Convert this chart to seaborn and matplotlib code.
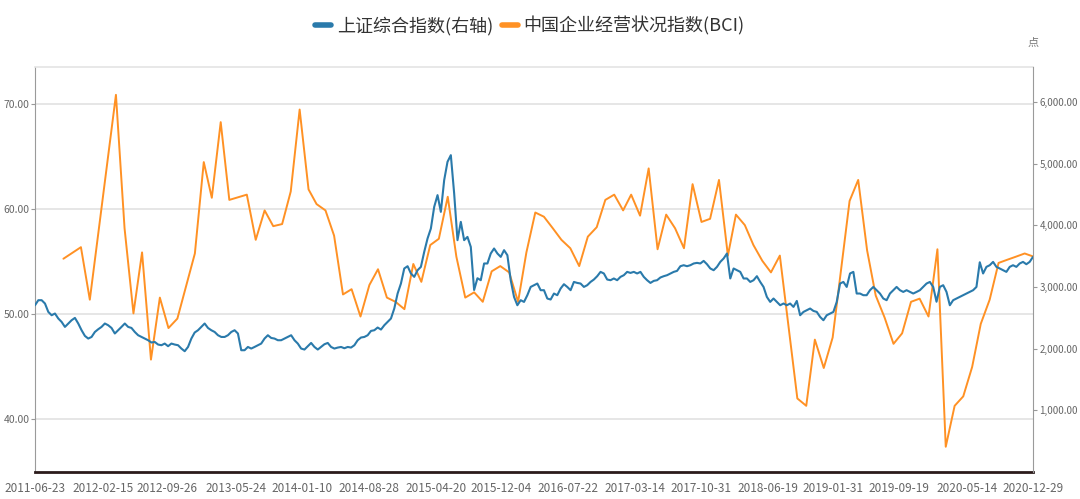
import pandas as pd
import matplotlib
matplotlib.use("Agg")
import matplotlib.pyplot as plt
import matplotlib.ticker as mticker
from matplotlib.lines import Line2D
import seaborn as sns

sse_start = "2011-06-23"
sse_end = "2020-12-29"
sse_values = [
    2703, 2785, 2785, 2731, 2595, 2541, 2569, 2488, 2433, 2352,
    2407, 2460, 2498, 2407, 2298, 2206, 2163, 2189, 2270, 2314,
    2352, 2407, 2379, 2335, 2245, 2298, 2352, 2407, 2352, 2335,
    2270, 2217, 2189, 2163, 2136, 2099, 2108, 2066, 2055, 2082,
    2039, 2082, 2066, 2055, 2001, 1958, 2027, 2163, 2261, 2298,
    2352, 2407, 2335, 2298, 2270, 2217, 2189, 2189, 2217, 2270,
    2298, 2245, 1974, 1974, 2027, 2001, 2027, 2055, 2082, 2163,
    2217, 2173, 2163, 2136,
    2136, 2163, 2189, 2217, 2136, 2082, 2001, 1985, 2039, 2092,
    2027, 1985, 2027, 2071, 2092, 2027, 2001, 2017, 2027, 2006,
    2027, 2017, 2055, 2136, 2180, 2189, 2217, 2287, 2298, 2342,
    2309, 2379, 2433, 2488, 2650, 2893, 3055, 3299, 3336, 3218,
    3163, 3271, 3325, 3568, 3785, 3947, 4298, 4488, 4217, 4731,
    5028, 5136, 4515, 3758, 4055, 3758, 3811, 3649, 2950, 3141,
    3109, 3380, 3380, 3542, 3623, 3542, 3487, 3596, 3514, 3109,
    2838, 2703, 2785, 2757, 2866, 3000,
    3028, 3055, 2947, 2947, 2812, 2796, 2893, 2866, 2974, 3044,
    3000, 2947, 3081, 3065, 3055, 3000, 3028, 3081, 3120, 3174,
    3244, 3218, 3120, 3109, 3137, 3109, 3163, 3190, 3244, 3227,
    3244, 3218, 3244, 3163, 3109, 3065, 3098, 3109, 3153, 3174,
    3190, 3218, 3244, 3260, 3336, 3352, 3336, 3352, 3380, 3390,
    3380, 3422, 3368, 3299, 3271, 3325, 3406, 3461, 3542, 3137,
    3299, 3271, 3244, 3137, 3137, 3081, 3109, 3174, 3081, 3000,
    2838, 2757, 2812, 2757, 2703,
    2731, 2703, 2731, 2676, 2773, 2541, 2595, 2622, 2650, 2611,
    2595, 2514, 2460, 2541, 2569, 2595, 2757, 3055, 3081, 3000,
    3218, 3244, 2893, 2893, 2866, 2866, 2947, 3000, 2947, 2893,
    2812, 2785, 2893, 2947, 3000, 2947, 2919, 2947, 2919, 2893,
    2919, 2947, 3000, 3055, 3081, 3000, 2760, 3000, 3028, 2919,
    2703, 2785, 2812, 2838, 2866, 2893, 2919, 2947, 3000, 3400,
    3218, 3325, 3352, 3406, 3325, 3299, 3271, 3244, 3325, 3352,
    3325, 3380, 3406, 3368, 3406, 3487,
]

# 中国企业经营状况指数 (BCI), monthly
bci_months = [
    "2011-09", "2011-11", "2011-12", "2012-03", "2012-04", "2012-05", "2012-06",
    "2012-07", "2012-08", "2012-09", "2012-10", "2012-12", "2013-01", "2013-02",
    "2013-03", "2013-04", "2013-06", "2013-07", "2013-08", "2013-09", "2013-10",
    "2013-11", "2013-12", "2014-01", "2014-02", "2014-03", "2014-04", "2014-05",
    "2014-06", "2014-07", "2014-08", "2014-09", "2014-10", "2014-11", "2014-12",
    "2015-01", "2015-02", "2015-03", "2015-04", "2015-05", "2015-06", "2015-07",
    "2015-08", "2015-09", "2015-10", "2015-11", "2015-12", "2016-01", "2016-02",
    "2016-03", "2016-04", "2016-05", "2016-06", "2016-07", "2016-08", "2016-09",
    "2016-10", "2016-11", "2016-12", "2017-01", "2017-02", "2017-03", "2017-04",
    "2017-05", "2017-06", "2017-07", "2017-08", "2017-09", "2017-10", "2017-11",
    "2017-12", "2018-01", "2018-02", "2018-03", "2018-04", "2018-05", "2018-06",
    "2018-07", "2018-09", "2018-10", "2018-11", "2018-12", "2019-01", "2019-03",
    "2019-04", "2019-05", "2019-06", "2019-07", "2019-08", "2019-09", "2019-10",
    "2019-11", "2019-12", "2020-01", "2020-02", "2020-03", "2020-04", "2020-05",
    "2020-06", "2020-07", "2020-08", "2020-09", "2020-10", "2020-11", "2020-12",
]
bci_values = [
    55.3, 56.4, 51.4, 70.9, 58.2, 50.1, 55.9, 45.7, 51.6, 48.7,
    49.6, 55.8, 64.5, 61.1, 68.3, 60.9, 61.4, 57.1, 59.9, 58.4,
    58.6, 61.7, 69.5, 61.9, 60.5, 59.9, 57.5, 51.9, 52.4, 49.8,
    52.8, 54.3, 51.6, 51.2, 50.5, 54.8, 53.1, 56.6, 57.2, 61.2,
    55.5, 51.6, 52.1, 51.2, 54.1, 54.6, 54.0, 51.2, 55.9, 59.7,
    59.3, 58.2, 57.1, 56.3, 54.6, 57.4, 58.3, 60.9, 61.4, 59.9,
    61.4, 59.4, 63.9, 56.2, 59.5, 58.2, 56.3, 62.4, 58.8, 59.1,
    62.8, 55.6, 59.5, 58.5, 56.6, 55.1, 54.0, 55.6, 42.0, 41.3,
    47.6, 44.9, 47.8, 60.8, 62.8, 56.1, 51.8, 49.7, 47.2, 48.2,
    51.2, 51.5, 49.8, 56.2, 37.4, 41.3, 42.2, 45.0, 49.1, 51.4,
    54.9, 55.2, 55.5, 55.8, 55.5,
]

tick_dates = [
    "2011-06-23", "2012-02-15", "2012-09-26", "2013-05-24", "2014-01-10",
    "2014-08-28", "2015-04-20", "2015-12-04", "2016-07-22", "2017-03-14",
    "2017-10-31", "2018-06-19", "2019-01-31", "2019-09-19", "2020-05-14",
    "2020-12-29",
]
left_ticks = [40, 50, 60, 70]
right_ticks = [1000, 2000, 3000, 4000, 5000, 6000]

sse_label = "上证综合指数(右轴)"
bci_label = "中国企业经营状况指数(BCI)"
blue = "#2a7aab"
orange = "#ff9124"

sns.set_style("white")
plt.rcParams["font.family"] = ["Noto Sans CJK SC", "DejaVu Sans"]

sse = pd.DataFrame({
    "date": pd.date_range(sse_start, sse_end, periods=len(sse_values)),
    "value": sse_values,
})
bci = pd.DataFrame({
    "date": pd.to_datetime(bci_months) + pd.offsets.MonthEnd(0),
    "value": bci_values,
})

fig = plt.figure(figsize=(10.8, 4.99), dpi=100)
ax = fig.add_axes([35 / 1080, 27 / 499, 998 / 1080, 405 / 499])
axr = ax.twinx()

sns.lineplot(data=bci, x="date", y="value", ax=ax, color=orange, lw=1.4)
sns.lineplot(data=sse, x="date", y="value", ax=axr, color=blue, lw=1.5)

ax.set_xlim(pd.Timestamp(sse_start), pd.Timestamp(sse_end))
ax.set_ylim(35, 73.55)
axr.set_ylim(0, 6565)

ax.set_yticks(left_ticks)
ax.yaxis.set_major_formatter(mticker.FuncFormatter(lambda v, p: f"{v:.2f}"))
axr.set_yticks(right_ticks)
axr.yaxis.set_major_formatter(mticker.FuncFormatter(lambda v, p: f"{v:,.2f}"))
ax.set_xticks(pd.to_datetime(tick_dates))
ax.set_xticklabels(tick_dates)

ax.yaxis.grid(True, color="#e6e6e6", lw=1.4)
ax.xaxis.grid(False)
for a in (ax, axr):
    a.set_xlabel("")
    a.set_ylabel("")

ax.tick_params(axis="y", direction="out", length=3, width=0.8, color="#999999",
               labelsize=7.5, labelcolor="#666666", pad=1)
axr.tick_params(axis="y", direction="out", length=3, width=0.8, color="#999999",
                labelsize=7, labelcolor="#666666", pad=1.5)
ax.tick_params(axis="x", direction="out", length=4, width=0.8, color="#555555",
               labelsize=8.5, labelcolor="#666666", pad=3)

for a in (ax, axr):
    for s in a.spines.values():
        s.set_visible(False)
ax.spines["left"].set_visible(True)
ax.spines["left"].set_color("#9a9a9a")
ax.spines["top"].set_visible(True)
ax.spines["top"].set_color("#e4e4e4")
ax.spines["top"].set_linewidth(1.2)
ax.spines["bottom"].set_visible(True)
ax.spines["bottom"].set_color("#2b1b1b")
ax.spines["bottom"].set_linewidth(2)
axr.spines["right"].set_visible(True)
axr.spines["right"].set_color("#9a9a9a")

handles = [Line2D([0], [0], color=blue, lw=4), Line2D([0], [0], color=orange, lw=4)]
leg = fig.legend(handles, [sse_label, bci_label], loc="upper center",
                 bbox_to_anchor=(530 / 1080, 1.0), ncol=2, frameon=False,
                 fontsize=13, handlelength=0.9, handletextpad=0.3, columnspacing=0.5)
for t in leg.get_texts():
    t.set_color("#333333")

fig.text(1033 / 1080, 1 - 43 / 499, "点", fontsize=8, color="#777777",
         ha="center", va="center")

fig.savefig("out.png", dpi=100)
